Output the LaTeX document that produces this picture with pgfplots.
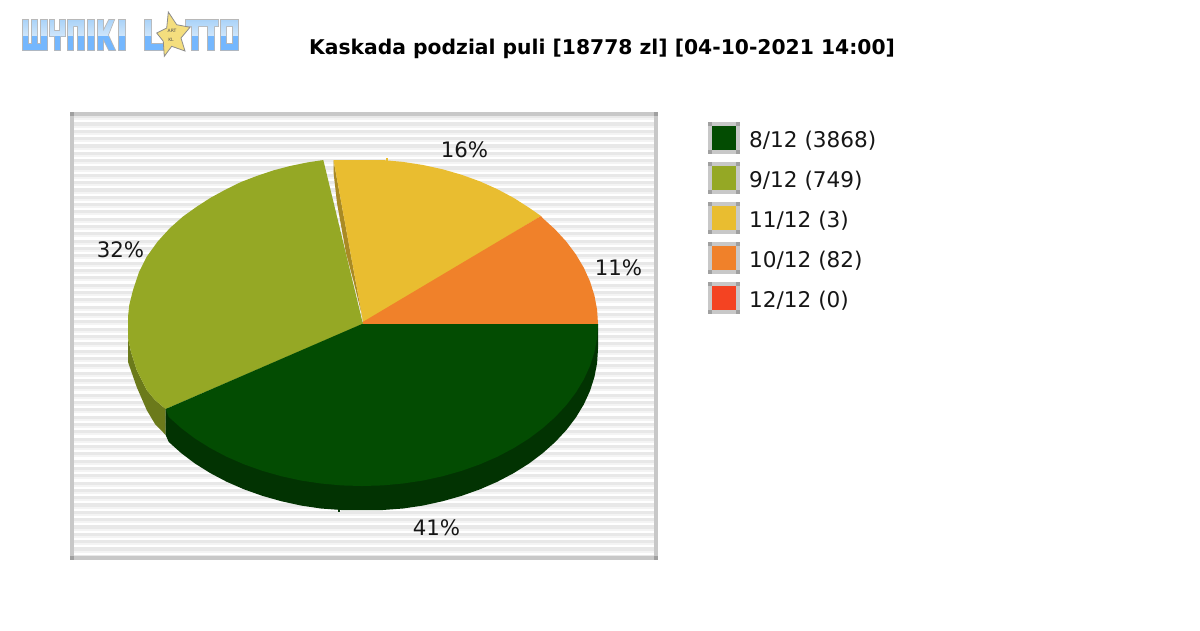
\documentclass[border=0pt]{standalone}
\usepackage{fontspec}
\setmainfont{DejaVu Sans}
\usepackage{pgfplots}
\pgfplotsset{compat=1.18}
\definecolor{cA}{HTML}{034C02}
\definecolor{cAs}{HTML}{023302}
\definecolor{cB}{HTML}{95A825}
\definecolor{cBs}{HTML}{6B7A1B}
\definecolor{cC}{HTML}{E9BD30}
\definecolor{cCs}{HTML}{A98A24}
\definecolor{cD}{HTML}{F0812A}
\definecolor{cE}{HTML}{F44322}
\definecolor{frm}{HTML}{C8C8C8}
\definecolor{frd}{HTML}{A0A0A0}
\definecolor{band}{HTML}{E8E8E8}
\definecolor{bandl}{HTML}{F4F4F4}
\definecolor{txt}{HTML}{161616}
\definecolor{logoA}{HTML}{A9D2F8}
\definecolor{logoB}{HTML}{CFE6FB}
\definecolor{logoC}{HTML}{74B7FE}
\definecolor{star}{HTML}{F4DE7E}
\newcommand{\legbox}[2]{%
  \fill[frm] (708,#1) rectangle (740,#1+32);
  \fill[frd] (708,#1) rectangle (712,#1+4);
  \fill[frd] (736,#1) rectangle (740,#1+4);
  \fill[frd] (708,#1+28) rectangle (712,#1+32);
  \fill[frd] (736,#1+28) rectangle (740,#1+32);
  \fill[#2] (712,#1+4) rectangle (736,#1+28);
}
\newcommand{\logoletters}{
  (23,20) rectangle (28,50) (32,20) rectangle (37,50) (41,20) rectangle (47,50) (23,44) rectangle (47,50)
  (50,20) rectangle (54,36) (60,20) rectangle (65,36) (50,31) rectangle (65,36) (55,31) rectangle (60,50)
  (68,20) rectangle (73,50) (78,20) rectangle (84,50) (68,20) rectangle (84,26)
  (88,20) rectangle (94,50)
  (98,20) rectangle (103,50) (103,32) -- (109,20) -- (114,20) -- (108,35) -- (115,50) -- (109,50) -- (103,38) -- cycle
  (119,20) rectangle (125,50)
  (145,20) rectangle (151,50) (145,44) rectangle (163,50)
  (186,20) rectangle (203,26) (192,20) rectangle (198,50)
  (203,20) rectangle (218,26) (208,20) rectangle (214,50)
  (221,20) rectangle (226,50) (233,20) rectangle (238,50) (221,20) rectangle (238,26) (221,44) rectangle (238,50)
}
\begin{document}
\begin{tikzpicture}
\path[use as bounding box] (0,0) rectangle (1200pt,-630pt);
\begin{scope}[x=1pt,y=-1pt]
  \foreach \k in {0,...,60} {
    \fill[band] (74,{115+7.33*\k}) rectangle (654,{118.2+7.33*\k});
    \fill[bandl] (74,{118.2+7.33*\k}) rectangle (654,{120.2+7.33*\k});
  }
  \fill[frm] (70,112) rectangle (658,116);
  \fill[frm] (70,556) rectangle (658,560);
  \fill[frm] (70,112) rectangle (74,560);
  \fill[frm] (654,112) rectangle (658,560);
  \fill[frd] (70,112) rectangle (74,116);
  \fill[frd] (654,112) rectangle (658,116);
  \fill[frd] (70,556) rectangle (74,560);
  \fill[frd] (654,556) rectangle (658,560);
\end{scope}
\begin{axis}[at={(0pt,-630pt)},anchor=south west,scale only axis,width=1200pt,height=630pt,
  xmin=0,xmax=1200,ymin=0,ymax=630,y dir=reverse,hide axis,clip=false]
% side of the 11/12 slice, seen where the 9/12 slice is pulled out
\addplot[fill=cCs,draw=none] coordinates {(333.5,160)(333.5,172)(337,203)(346,253)(354,283)(364,324)(363.5,324)} -- cycle;
% 11/12 (16%)
\addplot[fill=cC,draw=none] coordinates {(363.5,324)(333.5,160)(362,160)(382.6,160)(403,161.9)(423.1,165)(442.7,169.3)(461.7,174.8)(480,181.4)(497.4,189.2)(513.7,197.9)(528.9,207.6)(541,216)} -- cycle;
\addplot[fill=cC,draw=none] coordinates {(385.5,157.5)(387.5,157.5)(387.5,161)(385.5,161)} -- cycle;
% 10/12 (11%)
\addplot[fill=cD,draw=none] coordinates {(361,324)(598,324)(597.1,309.7)(594.4,295.4)(590,281.4)(583.8,267.7)(575.9,254.4)(566.4,241.7)(555.3,229.6)(542.8,218.2)(541,216)(360.5,323.3)} -- cycle;
% 9/12 (32%) side
\addplot[fill=cBs,draw=none] coordinates {(128,338)(128,362)(136.7,387)(146.7,410)(155,424)(165.7,435)(165.7,409)(155,400)(146.7,390)(136.7,370)(131,352)} -- cycle;
% 9/12 (32%) top
\addplot[fill=cB,draw=none] coordinates {(363,324)(323.3,160)(307,162.5)(290,166)(273,170.5)(256.7,176)(241,182)(226.7,189)(211,197.5)(196.7,206.7)(183,216.5)(170,228)(157.7,241.5)(146.7,256.7)(139,272)(133,290)(129.3,305)(128,317)(128,338)(131,352)(136.7,370)(146.7,390)(155,400)(165.7,409)} -- cycle;
% 8/12 (41%) side
\addplot[fill=cAs,draw=none] coordinates {(598,324)(598,349)(597.1,363.1)(594.4,377.1)(590,390.9)(583.8,404.4)(575.9,417.5)(566.4,430)(555.3,441.9)(542.8,453.1)(528.9,463.6)(513.7,473.1)(497.4,481.7)(480,489.3)(461.7,495.8)(442.7,501.2)(423.1,505.5)(403,508.5)(382.6,510)(362,510)(341.4,510)(321,508.5)(300.9,505.5)(281.3,501.2)(262.3,495.8)(244,489.3)(226.6,481.7)(210.3,473.1)(195.1,463.6)(181.2,453.1)(168.7,441.9)(165.7,435)(165.7,409)} -- cycle;
\addplot[fill=cAs,draw=none] coordinates {(338,505)(340,505)(340,512)(338,512)} -- cycle;
% 8/12 (41%) top
\addplot[fill=cA,draw=none] coordinates {(362,324)(598,324)(597.1,338.1)(594.4,352.1)(590,365.9)(583.8,379.4)(575.9,392.5)(566.4,405)(555.3,416.9)(542.8,428.1)(528.9,438.6)(513.7,448.1)(497.4,456.7)(480,464.3)(461.7,470.8)(442.7,476.2)(423.1,480.5)(403,483.5)(382.6,485.4)(362,486)(341.4,485.4)(321,483.5)(300.9,480.5)(281.3,476.2)(262.3,470.8)(244,464.3)(226.6,456.7)(210.3,448.1)(195.1,438.6)(181.2,428.1)(168.7,416.9)(165.7,409)} -- cycle;
\end{axis}
\begin{scope}[x=1pt,y=-1pt]
  % logo
  \draw[frd,line width=1.6pt,opacity=.75] \logoletters;
  \begin{scope}
    \clip \logoletters;
    \shade[top color=logoA,bottom color=logoB] (20,19) rectangle (240,36);
    \fill[logoC] (20,36) rectangle (240,52);
  \end{scope}
  \fill[star,draw=black!45,line width=.8pt]
    (168.3,12) -- (176.7,24.7) -- (190,27.3) -- (181,38) -- (185,51) -- (171.7,46.3) -- (164.3,56.3) -- (163.3,41.3) -- (156.7,33) -- (166.7,28) -- cycle;
  \node[font=\fontsize{4.5}{5}\selectfont,text=black!70,inner sep=0pt] at (172,31) {ART};
  \node[font=\fontsize{4.5}{5}\selectfont,text=black!70,inner sep=0pt] at (171,40) {KL};
  % title and labels
  \node[font=\fontsize{20.3}{24}\bfseries\selectfont,text=black,inner sep=0pt] at (602,49) {Kaskada podzial puli [18778 zl] [04-10-2021 14:00]};
  \node[font=\fontsize{21.3}{25}\selectfont,text=txt,inner sep=0pt] at (464.5,150) {16\%};
  \node[font=\fontsize{21.3}{25}\selectfont,text=txt,inner sep=0pt] at (618.5,268) {11\%};
  \node[font=\fontsize{21.3}{25}\selectfont,text=txt,inner sep=0pt] at (120.5,250) {32\%};
  \node[font=\fontsize{21.3}{25}\selectfont,text=txt,inner sep=0pt] at (436.5,528) {41\%};
  % legend
  \legbox{122}{cA}
  \legbox{162}{cB}
  \legbox{202}{cC}
  \legbox{242}{cD}
  \legbox{282}{cE}
  \foreach \yy/\tt in {141/8\slash 12 (3868),181/9\slash 12 (749),221/11\slash 12 (3),261/10\slash 12 (82),301/12\slash 12 (0)}
    {\node[anchor=west,font=\fontsize{21.6}{25}\selectfont,text=txt,inner sep=0pt] at (749,\yy) {\tt};}
\end{scope}
\end{tikzpicture}
\end{document}
